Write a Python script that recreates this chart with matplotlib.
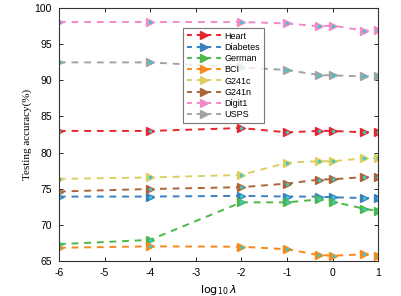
import numpy as np
import matplotlib
matplotlib.use('Agg')
import matplotlib.pyplot as plt

plt.rcParams['axes.unicode_minus'] = False

# lambda values: 1e-6, 1e-4, 1e-2, 0.1, 0.5, 1, 5, 10
lam = [1e-6, 1e-4, 1e-2, 0.1, 0.5, 1, 5, 10]

heart = [83.0, 83.0, 83.4, 82.8, 83.0, 83.0, 82.8, 82.9]
diabetes = [73.9, 73.9, 74.0, 73.9, 73.9, 73.8, 73.7, 73.7]
german = [67.3, 67.9, 73.1, 73.1, 73.5, 73.2, 72.2, 71.9]
bci = [66.8, 67.0, 66.95, 66.6, 65.8, 65.7, 65.9, 65.65]
g241c = [76.35, 76.55, 76.9, 78.6, 78.8, 78.8, 79.2, 79.2]
g241n = [74.6, 74.95, 75.2, 75.7, 76.25, 76.3, 76.6, 76.6]
digit1 = [98.1, 98.1, 98.1, 97.9, 97.5, 97.6, 96.9, 97.0]
usps = [92.5, 92.5, 91.8, 91.45, 90.75, 90.7, 90.55, 90.55]

names = ['Heart', 'Diabetes', 'German', 'BCI', 'G241c', 'G241n', 'Digit1', 'USPS']
series = [heart, diabetes, german, bci, g241c, g241n, digit1, usps]
colors = ['#e5262c', '#3a7fc1', '#4cb84a', '#f7891c', '#dccf62', '#ad6538', '#f38ac8', '#a3a3a3']

x = np.log10(lam)

fig = plt.figure(figsize=(4.01, 2.96), dpi=100)
ax = fig.add_axes([0.147, 0.119, 0.796, 0.853])

for name, vals, c in zip(names, series, colors):
    ax.plot(x, vals, linestyle='--', color=c, lw=1.4, dashes=(3.5, 3),
            marker='>', markersize=6, markerfacecolor=c, markeredgecolor=c,
            label=name)
    ax.plot(x, vals, linestyle='none', marker='o', markersize=1.5,
            color='#3cc8c8')

ax.set_xlim(-6, 1)
ax.set_ylim(65, 100)
ax.set_xticks([-6, -5, -4, -3, -2, -1, 0, 1])
ax.set_yticks([65, 70, 75, 80, 85, 90, 95, 100])
ax.tick_params(direction='in', top=True, right=True, labelsize=7.5, length=3,
               width=0.6, pad=5)
for lbl in ax.get_xticklabels() + ax.get_yticklabels():
    lbl.set_family('Liberation Sans')
for s in ax.spines.values():
    s.set_linewidth(0.8)
    s.set_color('#333333')

ax.set_xlabel(r'$\mathrm{log}_{10}\,\lambda$', fontsize=8, family='serif', labelpad=4)
ax.set_ylabel('Testing accuracy(%)', fontsize=8, family='Liberation Serif', labelpad=2)

leg = ax.legend(loc='upper left', bbox_to_anchor=(0.375, 0.94),
                prop={'family': 'Liberation Sans', 'size': 6.5},
                frameon=True, fancybox=False, edgecolor='#555555',
                handlelength=3.8, handletextpad=0.4, labelspacing=0.25,
                borderpad=0.4, markerscale=0.9)
leg.get_frame().set_linewidth(0.8)
for h in leg.get_lines():
    h.set_dashes((2.5, 2.5))

fig.savefig('out.png', dpi=100)
